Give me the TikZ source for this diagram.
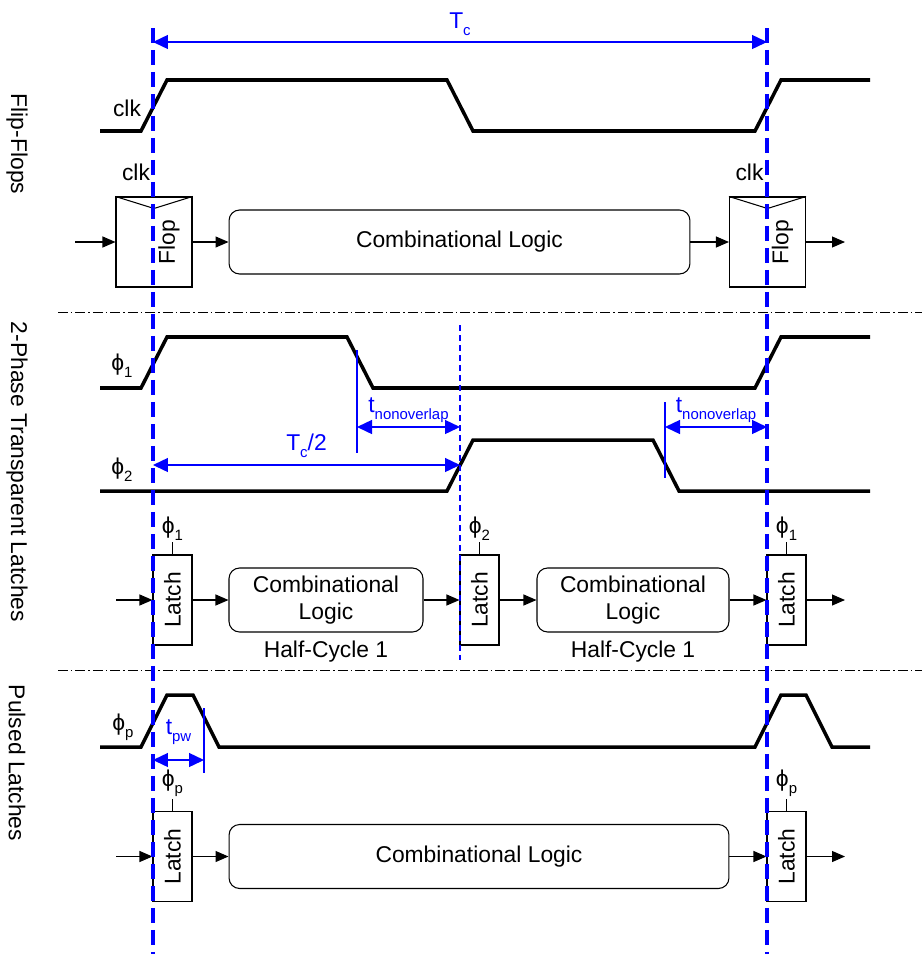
\documentclass[tikz,border=0pt]{standalone}
\usepackage{fontspec}
\setmainfont{Liberation Sans}
\usetikzlibrary{arrows.meta,positioning,calc}
\newcommand{\lsub}[1]{\raisebox{-0.3em}{\fontsize{8.5}{9}\selectfont #1}}

\begin{document}
\begin{tikzpicture}[
    x=0.02cm, y=-0.02cm,
    font=\fontsize{13}{15}\selectfont,
    wave/.style={line width=2pt, line join=miter},
    flop_box/.style={
      rectangle, draw, line width=0.6pt,
      minimum width=1.52cm, minimum height=1.8cm, inner sep=0pt
    },
    latch_box/.style={
      rectangle, draw, line width=0.6pt,
      minimum width=0.78cm, minimum height=1.8cm, inner sep=1pt
    },
    logic_box/.style={
      rectangle, rounded corners=6pt, draw, line width=0.6pt,
      minimum height=1.28cm, align=center, inner sep=2pt
    },
    edge_data/.style={
      -{Triangle[length=0.26cm, width=0.22cm]}, line width=0.6pt
    },
    pin/.style={line width=0.6pt},
    dim_arrow/.style={
      {Triangle[length=0.3cm, width=0.28cm]}-{Triangle[length=0.3cm, width=0.28cm]},
      blue, line width=0.8pt
    },
    dim_mark/.style={blue, line width=0.8pt},
    edge_ref/.style={blue, line width=1.8pt, dash pattern=on 0.3cm off 0.14cm},
    edge_half/.style={blue, line width=0.6pt, dash pattern=on 0.12cm off 0.08cm},
    divider/.style={line width=0.5pt, dash pattern=on 0.2cm off 0.06cm on 0.03cm off 0.06cm},
    section_label/.style={rotate=-90}
  ]
  \useasboundingbox (0,0) rectangle (922,954);

  % --- Section titles ---
  \node[section_label] (secFF) at (17,144) {Flip-Flops};
  \node[section_label] (secTP) at (17,472) {2-Phase Transparent Latches};
  \node[section_label] (secPL) at (17,763) {Pulsed Latches};

  \draw[divider] (58,312) -- (922,312);
  \draw[divider] (58,670) -- (922,670);

  % --- Flip-Flops ---
  \coordinate (TcL) at (153,42);
  \coordinate (TcR) at (767,42);
  \draw[dim_arrow] (TcL) -- (TcR) node[midway, above] {T\lsub{c}};

  \node (clkLbl) at (127,108) {clk};
  \draw[wave] (100,131) -- (141,131) -- (167,80) -- (447,80) -- (473,131)
    -- (755,131) -- (781,80) -- (870,80);

  \node[flop_box] (FFL) at (154,242) {};
  \node[flop_box] (FFR) at (767.5,242) {};
  \node[rotate=90] (FFLt) at ($(FFL)+(15,0)$) {Flop};
  \node[rotate=90] (FFRt) at ($(FFR)+(15,0)$) {Flop};
  \draw[pin] (FFL.north west) -- ($(FFL.north)+(0,12)$) -- (FFL.north east);
  \draw[pin] (FFR.north west) -- ($(FFR.north)+(0,12)$) -- (FFR.north east);
  \draw[pin] (FFL.north) -- ++(0,-12) node[above left, inner sep=2pt] {clk};
  \draw[pin] (FFR.north) -- ++(0,-12) node[above left, inner sep=2pt] {clk};

  \node[logic_box, minimum width=9.22cm] (CL1) at (459.5,242) {Combinational Logic};

  \coordinate (inFF) at (75,242);
  \coordinate (outFF) at (845,242);
  \draw[edge_data] (inFF) -- (FFL.west);
  \draw[edge_data] (FFL.east) -- (CL1.west);
  \draw[edge_data] (CL1.east) -- (FFR.west);
  \draw[edge_data] (FFR.east) -- (outFF);

  % --- 2-Phase Transparent Latches ---
  \node (phi1Lbl) at (122,366) {ϕ\lsub{1}};
  \draw[wave] (100,388) -- (141,388) -- (167,337) -- (347,337) -- (373,388)
    -- (755,388) -- (781,337) -- (870,337);
  \node (phi2Lbl) at (122,470) {ϕ\lsub{2}};
  \draw[wave] (100,491) -- (447,491) -- (473,440) -- (653,440) -- (679,491)
    -- (870,491);

  \draw[dim_mark] (357,350) -- (357,453);
  \draw[dim_mark] (665,402) -- (665,478);
  \coordinate (noA) at (357,427);
  \coordinate (noB) at (460,427);
  \coordinate (noC) at (665,427);
  \coordinate (noD) at (767,427);
  \coordinate (halfA) at (153,465);
  \coordinate (halfB) at (460,465);
  \draw[dim_arrow] (noA) -- (noB) node[midway, above, inner sep=2pt] {t\lsub{nonoverlap}};
  \draw[dim_arrow] (noC) -- (noD) node[midway, above, inner sep=2pt] {t\lsub{nonoverlap}};
  \draw[dim_arrow] (halfA) -- (halfB) node[midway, above, inner sep=4pt] {T\lsub{c}/2};

  \node[latch_box] (LA1) at (172.5,600) {\rotatebox{90}{Latch}};
  \node[latch_box] (LA2) at (479.5,600) {\rotatebox{90}{Latch}};
  \node[latch_box] (LA3) at (786.5,600) {\rotatebox{90}{Latch}};
  \draw[pin] (LA1.north) -- ++(0,-12) node[above, inner sep=1pt] {ϕ\lsub{1}};
  \draw[pin] (LA2.north) -- ++(0,-12) node[above, inner sep=1pt] {ϕ\lsub{2}};
  \draw[pin] (LA3.north) -- ++(0,-12) node[above, inner sep=1pt] {ϕ\lsub{1}};

  \node[logic_box, minimum width=3.88cm] (HL1) at (326,600) {Combinational\\Logic};
  \node[logic_box, minimum width=3.84cm] (HL2) at (633,600) {Combinational\\Logic};
  \node[below=1pt of HL1] (HC1) {Half-Cycle 1};
  \node[below=1pt of HL2] (HC2) {Half-Cycle 1};

  \coordinate (inTP) at (116,600);
  \coordinate (outTP) at (845,600);
  \draw[edge_data] (inTP) -- (LA1.west);
  \draw[edge_data] (LA1.east) -- (HL1.west);
  \draw[edge_data] (HL1.east) -- (LA2.west);
  \draw[edge_data] (LA2.east) -- (HL2.west);
  \draw[edge_data] (HL2.east) -- (LA3.west);
  \draw[edge_data] (LA3.east) -- (outTP);

  % --- Pulsed Latches ---
  \node (phipLbl) at (123,727) {ϕ\lsub{p}};
  \draw[wave] (100,747) -- (141,747) -- (167,695) -- (193,695) -- (219,747)
    -- (755,747) -- (781,695) -- (806,695) -- (832,747) -- (870,747);

  \draw[dim_mark] (204,708) -- (204,773);
  \coordinate (pwA) at (153,760);
  \coordinate (pwB) at (204,760);
  \draw[dim_arrow] (pwA) -- (pwB) node[midway, above=0.3cm, inner sep=0pt] {t\lsub{pw}};

  \node[latch_box] (LP1) at (172.5,856.5) {\rotatebox{90}{Latch}};
  \node[latch_box] (LP2) at (786.5,856.5) {\rotatebox{90}{Latch}};
  \draw[pin] (LP1.north) -- ++(0,-12) node[above, inner sep=1pt] {ϕ\lsub{p}};
  \draw[pin] (LP2.north) -- ++(0,-12) node[above, inner sep=1pt] {ϕ\lsub{p}};

  \node[logic_box, minimum width=10cm] (CL2) at (479,856.5) {Combinational Logic};

  \coordinate (inPL) at (116,856.5);
  \coordinate (outPL) at (845,856.5);
  \draw[edge_data] (inPL) -- (LP1.west);
  \draw[edge_data] (LP1.east) -- (CL2.west);
  \draw[edge_data] (CL2.east) -- (LP2.west);
  \draw[edge_data] (LP2.east) -- (outPL);

  % --- Reference edges ---
  \draw[edge_ref] (153,28) -- (153,954);
  \draw[edge_ref] (767,28) -- (767,954);
  \draw[edge_half] (460,325) -- (460,660);
\end{tikzpicture}
\end{document}
